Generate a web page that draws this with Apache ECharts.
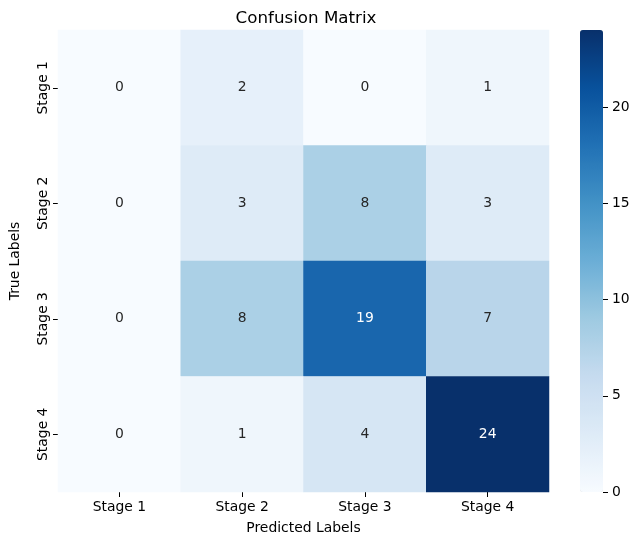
<!DOCTYPE html>
<html><head><meta charset="utf-8">
<script src="https://cdn.jsdelivr.net/npm/echarts@6/dist/echarts.min.js"></script>
<style>html,body{margin:0;padding:0;background:#fff}#c{width:640px;height:545px}</style>
</head><body><div id="c"></div>
<script>
const predictedLabels = ['Stage 1','Stage 2','Stage 3','Stage 4'];
const trueLabels = ['Stage 1','Stage 2','Stage 3','Stage 4'];
const row1 = [0, 2, 0, 1];
const row2 = [0, 3, 8, 3];
const row3 = [0, 8, 19, 7];
const row4 = [0, 1, 4, 24];
const colorbarTicks = [0, 5, 10, 15, 20];
const blues = ['#f7fbff','#deebf7','#c6dbef','#9ecae1','#6baed6','#4292c6','#2171b5','#08519c','#08306b'];
const rows = [row1, row2, row3, row4];
const vmin = 0, vmax = 24;
const data = [];
rows.forEach((r, yi) => r.forEach((v, xi) => {
  data.push({value: [xi, yi, v], label: {color: v / vmax > 0.6 ? '#ffffff' : '#262626'}});
}));
const font = 'DejaVu Sans';
const chart = echarts.init(document.getElementById('c'));
chart.setOption({
  animation: false,
  textStyle: {fontFamily: font},
  title: {text: 'Confusion Matrix', left: 301, top: 5, textAlign: 'center',
    textStyle: {fontFamily: font, fontSize: 16.7, fontWeight: 'normal', color: '#000'}},
  grid: [
    {left: 53, right: 91, top: 30, bottom: 53},
    {left: 603, width: 5, top: 30, height: 462}
  ],
  xAxis: [
    {type: 'category', data: predictedLabels, gridIndex: 0,
      name: 'Predicted Labels', nameLocation: 'middle', nameGap: 29,
      nameTextStyle: {fontFamily: font, fontSize: 13.9, color: '#000'},
      axisLine: {show: false}, splitLine: {show: false},
      axisTick: {show: true, alignWithLabel: true, length: 5, lineStyle: {color: '#000'}},
      axisLabel: {fontFamily: font, fontSize: 13.9, color: '#000', margin: 8}},
    {type: 'value', gridIndex: 1, show: false, min: 0, max: 1}
  ],
  yAxis: [
    {type: 'category', data: trueLabels, gridIndex: 0, inverse: true,
      name: 'True Labels', nameLocation: 'middle', nameGap: 36, nameRotate: 90,
      nameTextStyle: {fontFamily: font, fontSize: 13.9, color: '#000'},
      axisLine: {show: false}, splitLine: {show: false},
      axisTick: {show: true, alignWithLabel: true, length: 5, lineStyle: {color: '#000'}},
      axisLabel: {fontFamily: font, fontSize: 13.9, color: '#000', rotate: 90, margin: 8}},
    {type: 'value', gridIndex: 1, position: 'left', min: vmin, max: vmax, z: 20,
      axisLine: {show: false}, splitLine: {show: false},
      axisTick: {show: true, inside: true, length: 5, lineStyle: {color: '#000'},
        customValues: colorbarTicks},
      axisLabel: {fontFamily: font, fontSize: 13.9, color: '#000', inside: true, margin: 9,
        customValues: colorbarTicks}}
  ],
  visualMap: {
    type: 'continuous', min: vmin, max: vmax, calculable: false, show: true,
    seriesIndex: 0, orient: 'vertical', left: 580, top: 30, padding: 0,
    itemWidth: 23, itemHeight: 462, text: null, showLabel: false,
    hoverLink: false, z: 1,
    inRange: {color: blues}
  },
  series: [
    {type: 'heatmap', xAxisIndex: 0, yAxisIndex: 0, data: data,
      label: {show: true, fontFamily: font, fontSize: 13.9},
      itemStyle: {borderWidth: 0}, emphasis: {disabled: true}},
    {type: 'scatter', xAxisIndex: 1, yAxisIndex: 1, data: [], silent: true}
  ]
});
</script></body></html>
